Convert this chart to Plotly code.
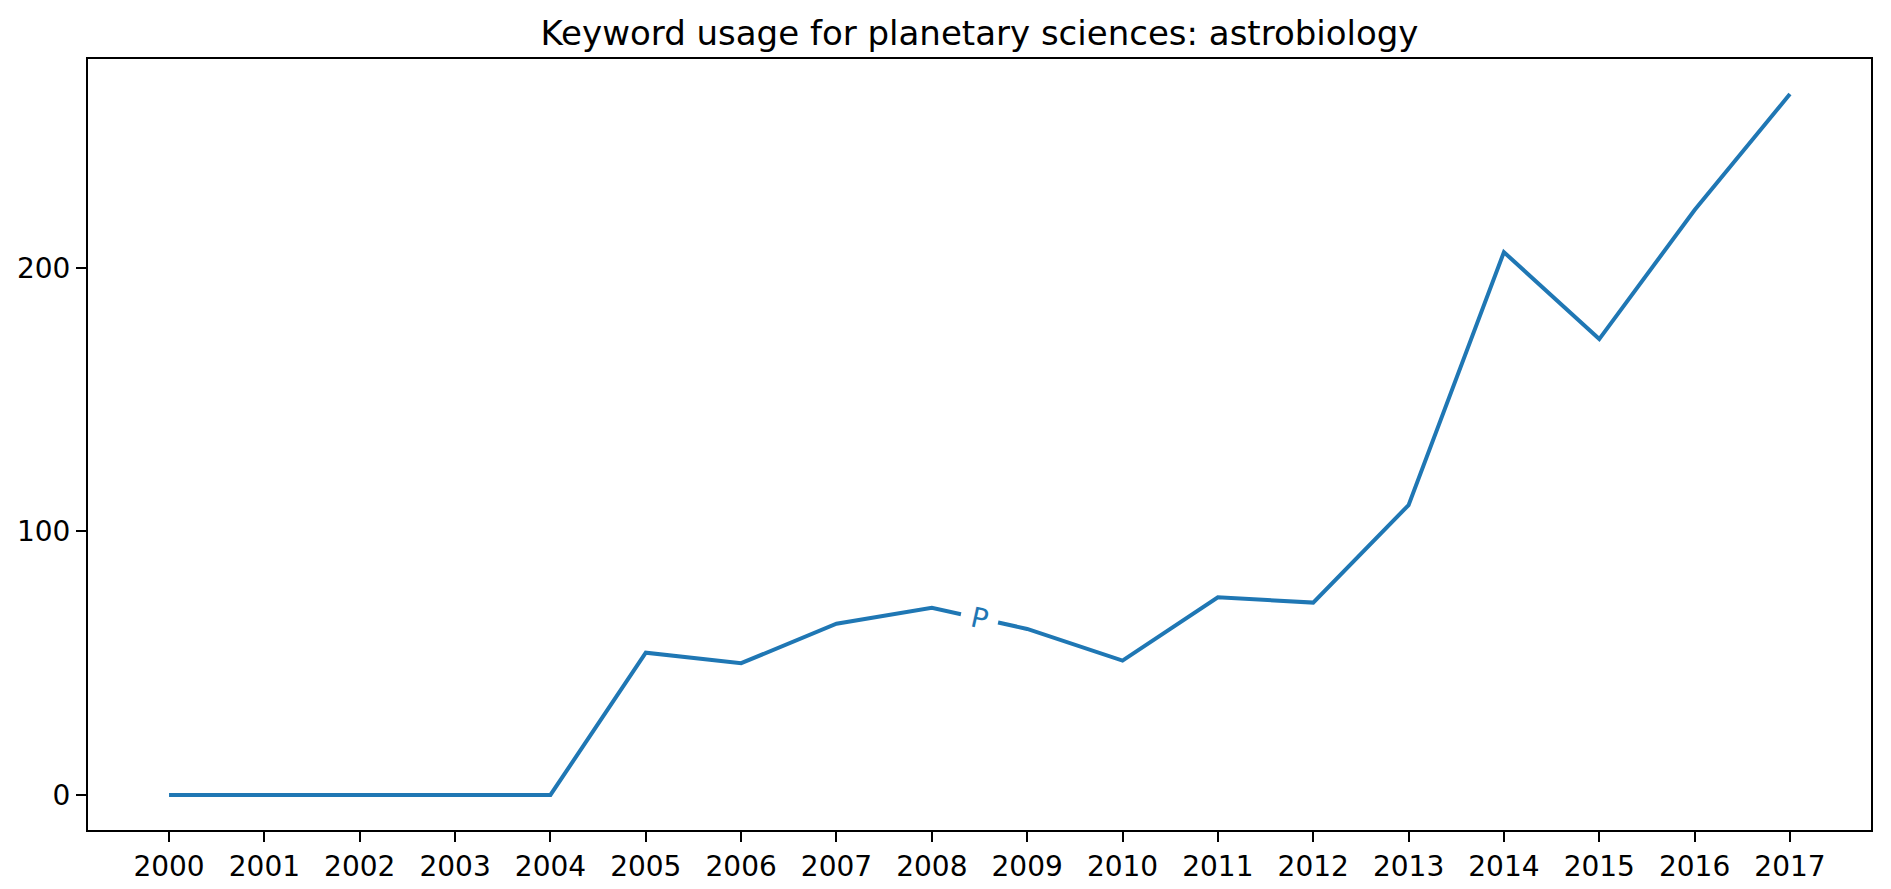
import plotly.graph_objects as go

years = list(range(2000, 2018))
counts = [0, 0, 0, 0, 0, 54, 50, 65, 71, 63, 51, 75, 73, 110, 206, 173, 222, 266]
label_text = "P"
label_x = 2008.5
y_ticks = [0, 100, 200]

blue = "#1f77b4"
font = "DejaVu Sans"

fig = go.Figure()
fig.add_trace(
    go.Scatter(
        x=years,
        y=counts,
        mode="lines",
        line=dict(color=blue, width=4),
        hoverinfo="x+y",
        showlegend=False,
    )
)

# inline label sitting on the line (like labellines)
i = years.index(int(label_x))
frac = label_x - years[i]
label_y = counts[i] + frac * (counts[i + 1] - counts[i])
fig.add_annotation(
    x=label_x,
    y=label_y,
    text=label_text,
    showarrow=False,
    textangle=12.5,
    font=dict(family=font, size=28, color=blue),
    bgcolor="white",
    borderpad=10,
)

axis_style = dict(
    ticks="outside",
    ticklen=10,
    tickwidth=2,
    tickcolor="black",
    showline=True,
    linecolor="black",
    linewidth=2,
    mirror=True,
    showgrid=False,
    zeroline=False,
    automargin=False,
)

span = max(counts) - min(counts)
fig.update_layout(
    width=1891,
    height=889,
    paper_bgcolor="white",
    plot_bgcolor="white",
    margin=dict(l=88, r=20, t=59, b=59),
    font=dict(family=font, size=28, color="black"),
    title=dict(
        text="Keyword usage for planetary sciences: astrobiology",
        x=0.5,
        xref="paper",
        xanchor="center",
        y=1 - 33 / 889,
        yanchor="middle",
        font=dict(family=font, size=34, color="black"),
    ),
    xaxis=dict(
        range=[years[0] - 0.05 * 17, years[-1] + 0.05 * 17],
        tickmode="array",
        tickvals=years,
        ticktext=[str(y) for y in years],
        **axis_style,
    ),
    yaxis=dict(
        range=[min(counts) - 0.05 * span, max(counts) + 0.05 * span],
        tickmode="array",
        tickvals=y_ticks,
        **axis_style,
    ),
)

# drop the page's default body margin so the figure fills the window exactly
fig.write_html(
    "out.html",
    config={"displayModeBar": False},
    post_script="document.body.style.margin='0';document.body.style.overflow='hidden';",
)
